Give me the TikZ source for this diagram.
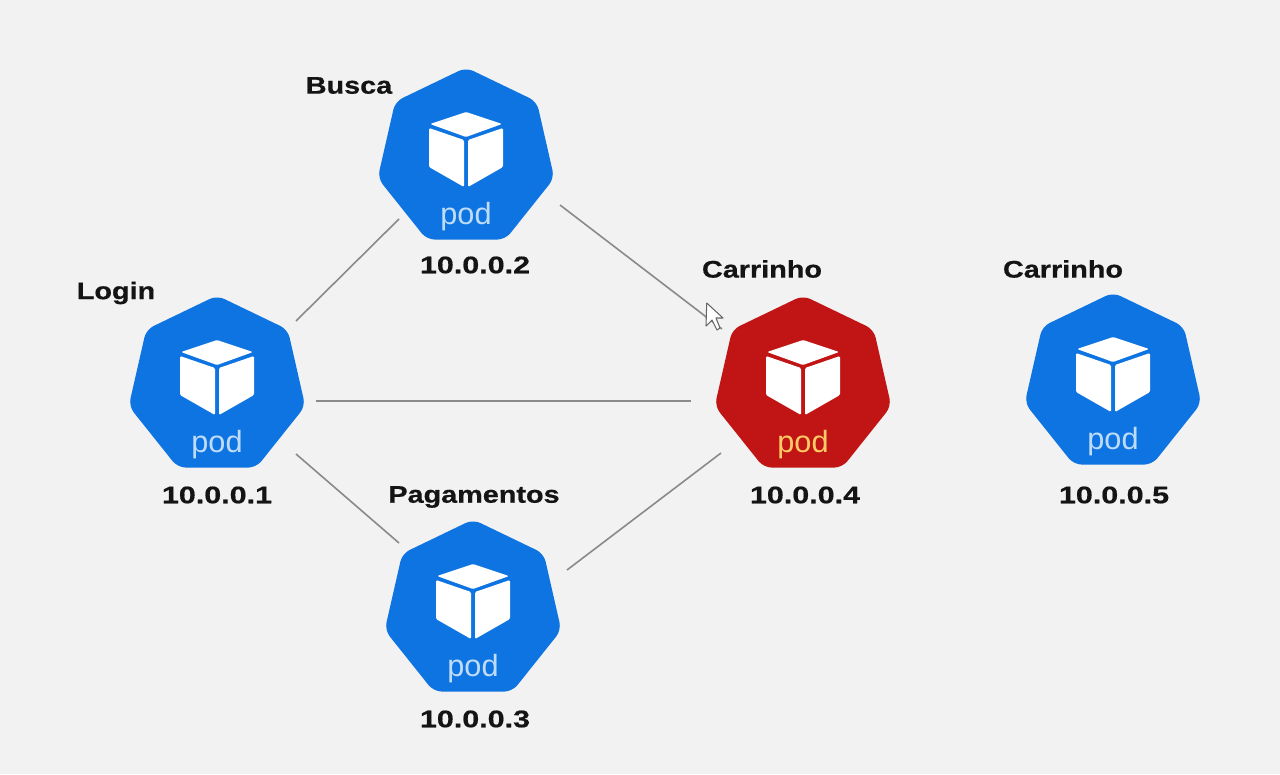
\documentclass[tikz,border=0pt]{standalone}
\usepackage{fontspec}
\setmainfont{Liberation Sans}
\newfontfamily\labfont[FakeStretch=1.2,FakeBold=0.6]{Liberation Sans Bold}
\newfontfamily\ipfont[FakeStretch=1.27,FakeBold=0.6]{Liberation Sans Bold}
\usetikzlibrary{shapes.geometric}
\definecolor{bgc}{HTML}{F2F2F2}
\definecolor{podblue}{HTML}{0E74E2}
\definecolor{podred}{HTML}{C11515}
\definecolor{podtxt}{HTML}{BEDCF8}
\definecolor{redtxt}{HTML}{FFCB66}
\definecolor{linkc}{HTML}{8A8A8A}
\definecolor{labc}{HTML}{141414}
\tikzset{
  x=0.75pt,y=-0.75pt,
  podshape/.style={regular polygon,regular polygon sides=7,minimum size=135.8pt,inner sep=0pt,outer sep=0pt,rounded corners=6pt,draw=none},
  namelabel/.style={font=\labfont\fontsize{18}{20}\selectfont,text=labc,inner sep=0pt},
  iplabel/.style={font=\ipfont\fontsize{18}{20}\selectfont,text=labc,inner sep=0pt},
  podtext/.style={font=\fontsize{23}{26}\selectfont,inner sep=0pt},
  link/.style={draw=linkc,line width=1.2pt},
}
\newcommand{\podat}[5]{%
  \node[podshape,fill=#4] (#1) at (#2,#3) {};
  \begin{scope}[shift={(#2,#3)}]
    \fill[white,rounded corners=1pt] (0,-46) -- (36,-34) -- (0,-21) -- (-36,-34) -- cycle;
    \fill[white,rounded corners=1pt] (-37,-30) -- (-2,-18) -- (-2,29) -- (-37,9) -- cycle;
    \fill[white,rounded corners=1pt] (37,-30) -- (2,-18) -- (2,29) -- (37,9) -- cycle;
  \end{scope}
  \node[podtext,text=#5] (#1text) at (#2,#3+59) {pod};
}
\newcommand{\port}[4]{\coordinate (#1) at ([shift={(#3,#4)}]#2.center);}
\begin{document}
\begin{tikzpicture}
\useasboundingbox (0,0) rectangle (1280,774);
\fill[bgc] (0,0) rectangle (1280,774);
\podat{busca}{466}{158}{podblue}{podtxt}
\podat{login}{217}{386}{podblue}{podtxt}
\podat{pagamentos}{473}{610}{podblue}{podtxt}
\podat{carrinhoa}{803}{386}{podred}{redtxt}
\podat{carrinhob}{1113}{383}{podblue}{podtxt}
\port{loginNE}{login}{79}{-65}
\port{loginE}{login}{99}{15}
\port{loginSE}{login}{79}{68}
\port{buscaSW}{busca}{-67}{61}
\port{buscaSE}{busca}{94}{47}
\port{pagNW}{pagamentos}{-74}{-67}
\port{pagNE}{pagamentos}{94}{-40}
\port{carNW}{carrinhoa}{-81}{-57}
\port{carW}{carrinhoa}{-112}{15}
\port{carSW}{carrinhoa}{-82}{67}
\draw[link] (loginNE) -- (buscaSW);
\draw[link] (buscaSE) -- (carNW);
\draw[link] (loginE) -- (carW);
\draw[link] (loginSE) -- (pagNW);
\draw[link] (pagNE) -- (carSW);
\node[namelabel] (n1) at (349,85.5) {Busca};
\node[namelabel] (n2) at (116,293) {Login};
\node[namelabel] (n3) at (474,497) {Pagamentos};
\node[namelabel] (n4) at (762,269) {Carrinho};
\node[namelabel] (n5) at (1063,269) {Carrinho};
\node[iplabel] (i1) at (217,495) {10.0.0.1};
\node[iplabel] (i2) at (475,265) {10.0.0.2};
\node[iplabel] (i3) at (475,719) {10.0.0.3};
\node[iplabel] (i4) at (805,495) {10.0.0.4};
\node[iplabel] (i5) at (1114,495) {10.0.0.5};
\draw[fill=white,draw=gray!80!black,line width=0.8pt,line join=round] (706.7,303) -- (706,326) -- (712,320) -- (717,330) -- (720,328) -- (716,318) -- (723,318) -- cycle;
\end{tikzpicture}
\end{document}
